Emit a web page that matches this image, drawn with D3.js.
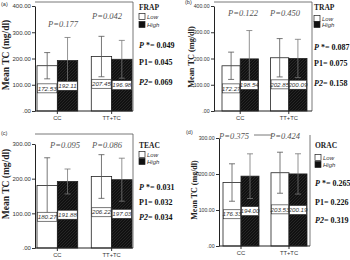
<!DOCTYPE html>
<html lang="en">
<head>
<meta charset="UTF-8">
<title>Mean TC by genotype</title>
<script src="https://d3js.org/d3.v7.min.js"></script>
<style>
  body { margin: 0; background: #fff; }
  svg { display: block; }
</style>
</head>
<body>
<div id="chart"></div>
<script>
// data
const categories = ["CC", "TT+TC"];
const groups = ["Low", "High"];

const frapMeans = [[172.53, 192.11], [207.45, 196.98]];
const frapErr = [[50, 88], [77, 72]];
const frapP = ["P=0.177", "P=0.042"];
const frapStats = ["0.049", "0.045", "0.069"];

const trapMeans = [[172.27, 198.54], [202.85, 200.09]];
const trapErr = [[52, 108], [73, 73]];
const trapP = ["P=0.122", "P=0.450"];
const trapStats = ["0.087", "0.075", "0.158"];

const teacMeans = [[180.27, 191.88], [206.22, 197.03]];
const teacErr = [[80, 36], [63, 62]];
const teacP = ["P=0.095", "P=0.086"];
const teacStats = ["0.031", "0.032", "0.034"];

const oracMeans = [[176.33, 194.00], [203.53, 200.19]];
const oracErr = [[52, 62], [57, 56]];
const oracP = ["P=0.375", "P=0.424"];
const oracStats = ["0.265", "0.226", "0.319"];

const ticksTop = [0, 100, 200, 300, 400];
const ticksBottom = [0, 100, 200, 300];

const W = 350, H = 260;
const svg = d3.select("#chart").append("svg")
    .attr("width", W).attr("height", H);

// hatch for the "High" bars
const pat = svg.append("defs").append("pattern")
    .attr("id", "hatch").attr("patternUnits", "userSpaceOnUse")
    .attr("width", 3).attr("height", 3);
pat.append("rect").attr("width", 3).attr("height", 3).attr("fill", "#111");
pat.append("path").attr("d", "M0,3 L3,0").attr("stroke", "#2c2c2c").attr("stroke-width", 0.8);

const serif = "'Liberation Serif', 'Times New Roman', serif";
const sans = "'Liberation Sans', Arial, sans-serif";
const fmt = v => v === 0 ? ".00" : v.toFixed(2);

function panel(o) {
    const g = svg.append("g");
    const y = d3.scaleLinear().domain([0, o.max]).range([o.y0, o.yTop]);
    const x0 = d3.scaleBand().domain(categories).range(o.band)
        .paddingInner(0.25).paddingOuter(0);
    const x1 = d3.scaleBand().domain(groups).range([0, x0.bandwidth()]);

    // frame (top edge may be partly hidden behind the p-value labels)
    g.append("line").attr("x1", o.right).attr("x2", o.right)
        .attr("y1", o.frameTop).attr("y2", o.y0)
        .attr("stroke", "#555").attr("stroke-width", 0.8);
    const seg = o.topSeg || [o.axisX, o.right];
    g.append("line").attr("x1", seg[0]).attr("x2", seg[1])
        .attr("y1", o.frameTop).attr("y2", o.frameTop)
        .attr("stroke", "#555").attr("stroke-width", 0.8);

    // bars
    const rows = [];
    categories.forEach((c, i) => groups.forEach((k, j) =>
        rows.push({cat: c, grp: k, v: o.means[i][j], e: o.err[i][j]})));

    const bx = d => x0(d.cat) + x1(d.grp);
    g.selectAll(".bar").data(rows).join("rect")
        .attr("x", bx)
        .attr("y", d => y(d.v))
        .attr("width", x1.bandwidth())
        .attr("height", d => o.y0 - y(d.v))
        .attr("fill", d => d.grp === "Low" ? "#fff" : "url(#hatch)")
        .attr("stroke", "#222").attr("stroke-width", 0.8);

    // error bars
    const cap = 3;
    rows.forEach(d => {
        const cx = bx(d) + x1.bandwidth() / 2;
        const col = d.grp === "Low" ? "#555" : "#777";
        g.append("line").attr("x1", cx).attr("x2", cx)
            .attr("y1", y(d.v + d.e)).attr("y2", y(d.v - d.e))
            .attr("stroke", col).attr("stroke-width", 0.8);
        [d.v + d.e, d.v - d.e].forEach(t => g.append("line")
            .attr("x1", cx - cap).attr("x2", cx + cap)
            .attr("y1", y(t)).attr("y2", y(t))
            .attr("stroke", col).attr("stroke-width", 0.8));
    });

    // value labels at half height
    rows.forEach(d => {
        const w = x1.bandwidth() - 1;
        const cy = y(d.v / 2);
        g.append("rect").attr("x", bx(d) + 0.5).attr("y", cy - 4.5)
            .attr("width", w).attr("height", 9)
            .attr("fill", "#fff").attr("stroke", "#222").attr("stroke-width", 0.6);
        g.append("text").attr("x", bx(d) + x1.bandwidth() / 2).attr("y", cy + 2.2)
            .attr("text-anchor", "middle").attr("font-family", sans)
            .attr("font-style", "italic").attr("font-size", 6.2).attr("fill", "#333")
            .text(d.v.toFixed(2));
    });

    // axes
    const ay = g.append("g").attr("transform", `translate(${o.axisX},0)`)
        .call(d3.axisLeft(y).tickValues(o.ticks).tickFormat(fmt).tickSize(3).tickSizeOuter(0));
    ay.select(".domain").attr("stroke", "#222");
    ay.selectAll("text").attr("font-family", sans).attr("font-size", o.tickFont).attr("fill", "#333").attr("dx", "0.3em");
    ay.selectAll("line").attr("stroke", "#333");

    const ax = g.append("g").attr("transform", `translate(0,${o.y0})`)
        .call(d3.axisBottom(x0).tickSize(3).tickSizeOuter(0));
    ax.select(".domain").remove();
    ax.selectAll("line").attr("stroke", "#333");
    ax.selectAll("text").attr("font-family", sans).attr("font-size", 5.8).attr("fill", "#333").attr("dy", "0.6em");
    g.append("line").attr("x1", o.axisX).attr("x2", o.right)
        .attr("y1", o.y0).attr("y2", o.y0).attr("stroke", "#222");

    // panel letter
    g.append("text").attr("x", o.letter[0]).attr("y", o.letter[1])
        .attr("font-family", sans).attr("font-size", 5.5).attr("fill", "#333").text(o.name);

    // y title
    g.append("text")
        .attr("transform", `translate(${o.title[0]},${o.title[1]}) rotate(-90)`)
        .attr("text-anchor", "middle").attr("font-family", serif)
        .attr("font-weight", "bold").attr("font-size", o.title[2]).attr("fill", "#222")
        .text("Mean TC (mg/dl)");

    // p values above groups
    o.p.forEach((t, i) => g.append("text")
        .attr("x", o.pPos[i][0]).attr("y", o.pPos[i][1])
        .attr("text-anchor", "middle").attr("font-family", serif)
        .attr("font-style", "italic").attr("font-size", 8.5).attr("fill", "#555")
        .text(t));

    // legend
    const lx = o.leg[0];
    g.append("text").attr("x", lx).attr("y", o.leg[1])
        .attr("font-family", serif).attr("font-weight", "bold")
        .attr("font-size", 7.5).attr("fill", "#222").text(o.label);
    groups.forEach((k, i) => {
        const yy = o.leg[2 + i];
        g.append("rect").attr("x", lx).attr("y", yy - 3.5).attr("width", 6).attr("height", 6)
            .attr("fill", k === "Low" ? "#fff" : "#111").attr("stroke", "#222").attr("stroke-width", 0.7);
        g.append("text").attr("x", lx + 8).attr("y", yy + 2)
            .attr("font-family", sans).attr("font-style", "italic")
            .attr("font-size", 6).attr("fill", "#333").text(k);
    });

    // test statistics
    const pref = [["P", " *= "], ["P1", "= "], ["P2", "= "]];
    o.stats.forEach((s, i) => {
        const t = g.append("text").attr("x", lx).attr("y", o.statY[i])
            .attr("font-family", serif).attr("font-weight", "bold")
            .attr("font-size", 8).attr("fill", "#111");
        t.append("tspan").attr("font-style", i === 1 ? "normal" : "italic").text(pref[i][0]);
        t.append("tspan").text(pref[i][1] + s);
    });
    return g;
}

panel({name: "(a)", label: "FRAP", means: frapMeans, err: frapErr, p: frapP, stats: frapStats,
    max: 400, ticks: ticksTop, y0: 111, yTop: 6, frameTop: 2, axisX: 35, right: 133, band: [37, 132],
    tickFont: 6, letter: [1, 6], title: [9, 55, 9.5], pPos: [[63, 27], [107, 19]],
    leg: [139, 10, 17, 25], statY: [48, 65, 85]});

panel({name: "(b)", label: "TRAP", means: trapMeans, err: trapErr, p: trapP, stats: trapStats,
    max: 400, ticks: ticksTop, y0: 111, yTop: 6, frameTop: 2, axisX: 214, right: 312, band: [222, 307],
    tickFont: 5.2, letter: [185, 4], title: [194, 57, 8.3], pPos: [[243, 16], [285, 16]],
    leg: [314, 10, 19, 25], statY: [50, 66, 86]});

panel({name: "(c)", label: "TEAC", means: teacMeans, err: teacErr, p: teacP, stats: teacStats,
    max: 300, ticks: ticksBottom, y0: 248, yTop: 144, frameTop: 134, axisX: 35, right: 133, band: [37, 132],
    tickFont: 6, letter: [1, 135], title: [9, 184, 9.5], pPos: [[65, 148], [107, 148]],
    leg: [139, 148, 155, 162], statY: [190, 205, 220]});

panel({name: "(d)", label: "ORAC", means: oracMeans, err: oracErr, p: oracP, stats: oracStats,
    max: 300, ticks: ticksBottom, y0: 246, yTop: 138, frameTop: 135, axisX: 219, right: 310, band: [223, 307],
    topSeg: [254, 272],
    tickFont: 5.2, letter: [186, 134], title: [197, 190, 8], pPos: [[234, 139], [285, 139]],
    leg: [315, 148, 158, 165], statY: [186, 205, 223]});
</script>
</body>
</html>
